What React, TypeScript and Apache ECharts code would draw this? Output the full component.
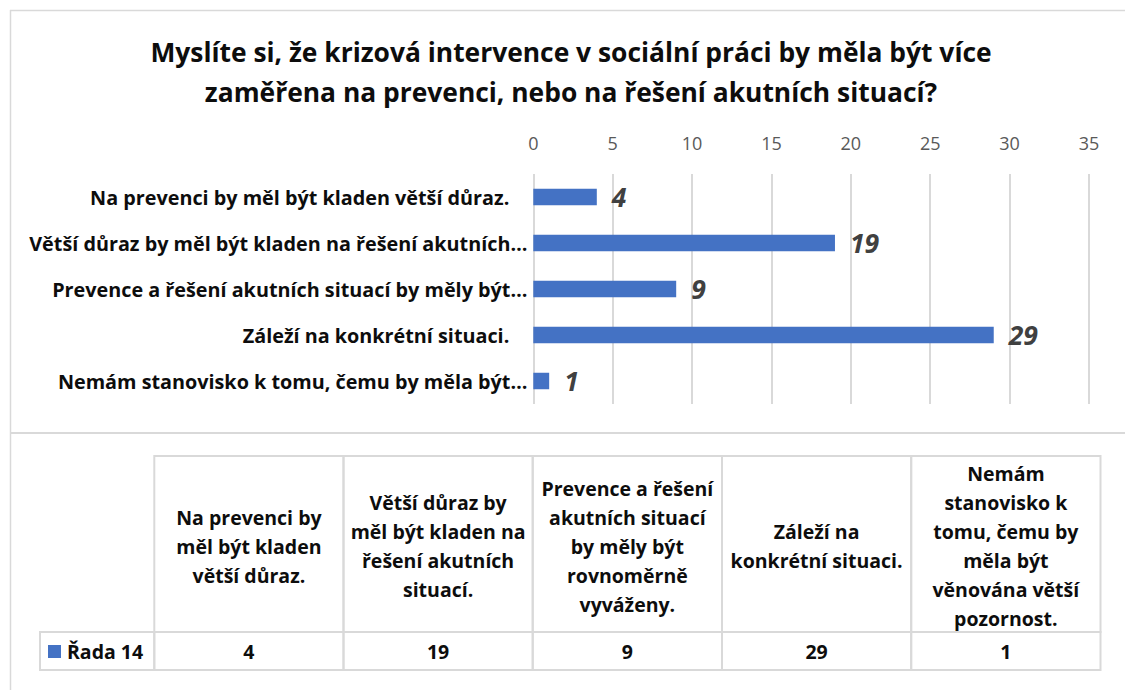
import React, { useEffect, useRef } from "react";
import * as echarts from "echarts";

const titleText =
  "Myslíte si, že krizová intervence v sociální práci by měla být více\nzaměřena na prevenci, nebo na řešení akutních situací?";

const categories = [
  "Na prevenci by měl být kladen větší důraz.",
  "Větší důraz by měl být kladen na řešení akutních situací.",
  "Prevence a řešení akutních situací by měly být rovnoměrně vyváženy.",
  "Záleží na konkrétní situaci.",
  "Nemám stanovisko k tomu, čemu by měla být věnována větší pozornost.",
];

const axisLabels = [
  "Na prevenci by měl být kladen větší důraz.",
  "Větší důraz by měl být kladen na řešení akutních…",
  "Prevence a řešení akutních situací by měly být…",
  "Záleží na konkrétní situaci.",
  "Nemám stanovisko k tomu, čemu by měla být…",
];

const tableHeaders = [
  "Na prevenci by\nměl být kladen\nvětší důraz.",
  "Větší důraz by\nměl být kladen na\nřešení akutních\nsituací.",
  "Prevence a řešení\nakutních situací\nby měly být\nrovnoměrně\nvyváženy.",
  "Záleží na\nkonkrétní situaci.",
  "Nemám\nstanovisko k\ntomu, čemu by\nměla být\nvěnována větší\npozornost.",
];

const seriesName = "Řada 14";
const values = [4, 19, 9, 29, 1];

const axisMin = 0;
const axisMax = 35;
const axisInterval = 5;

const FONT = "'Open Sans', 'Noto Sans', sans-serif";
const BAR_COLOR = "#4472c4";
const LINE_COLOR = "#d9d9d9";
const TEXT_SIZE = 19.5;

export default function App() {
  const ref = useRef<HTMLDivElement>(null);

  useEffect(() => {
    if (!ref.current) return;
    const chart = echarts.init(ref.current, undefined, { renderer: "svg" });

    const colX = [154.3, 343.5, 532.7, 722, 911.2, 1100.5];
    const legendX = 40;
    const headTop = 456;
    const headBottom = 632;
    const rowBottom = 670;

    const graphics: any[] = [];
    graphics.push({
      type: "line",
      shape: { x1: 10, y1: 10.5, x2: 1125, y2: 10.5 },
      style: { stroke: LINE_COLOR, lineWidth: 1.5 },
    });
    graphics.push({
      type: "line",
      shape: { x1: 10.5, y1: 10, x2: 10.5, y2: 690 },
      style: { stroke: LINE_COLOR, lineWidth: 1.5 },
    });
    graphics.push({
      type: "line",
      shape: { x1: 10, y1: 433, x2: 1125, y2: 433 },
      style: { stroke: LINE_COLOR, lineWidth: 2 },
    });
    graphics.push({
      type: "text",
      x: 571,
      y: 72,
      style: {
        text: titleText,
        fontFamily: FONT,
        fontSize: 26.4,
        fontWeight: "bold",
        fill: "#0d0d0d",
        align: "center",
        verticalAlign: "middle",
        lineHeight: 40,
      },
    });
    tableHeaders.forEach((h, i) => {
      graphics.push({
        type: "rect",
        shape: { x: colX[i], y: headTop, width: colX[i + 1] - colX[i], height: headBottom - headTop },
        style: { fill: "none", stroke: LINE_COLOR, lineWidth: 2 },
      });
      graphics.push({
        type: "text",
        x: (colX[i] + colX[i + 1]) / 2,
        y: (headTop + headBottom) / 2 + 2,
        style: {
          text: h,
          fontFamily: FONT,
          fontSize: TEXT_SIZE,
          fontWeight: "bold",
          fill: "#0d0d0d",
          align: "center",
          verticalAlign: "middle",
          lineHeight: 29,
        },
      });
    });
    graphics.push({
      type: "rect",
      shape: { x: legendX, y: headBottom, width: colX[0] - legendX, height: rowBottom - headBottom },
      style: { fill: "none", stroke: LINE_COLOR, lineWidth: 2 },
    });
    graphics.push({
      type: "rect",
      shape: { x: 48, y: 645, width: 13, height: 13 },
      style: { fill: BAR_COLOR },
    });
    graphics.push({
      type: "text",
      x: 67,
      y: 651,
      style: {
        text: seriesName,
        fontFamily: FONT,
        fontSize: TEXT_SIZE,
        fontWeight: "bold",
        fill: "#0d0d0d",
        align: "left",
        verticalAlign: "middle",
      },
    });
    values.forEach((v, i) => {
      graphics.push({
        type: "rect",
        shape: { x: colX[i], y: headBottom, width: colX[i + 1] - colX[i], height: rowBottom - headBottom },
        style: { fill: "none", stroke: LINE_COLOR, lineWidth: 2 },
      });
      graphics.push({
        type: "text",
        x: (colX[i] + colX[i + 1]) / 2,
        y: 651,
        style: {
          text: String(v),
          fontFamily: FONT,
          fontSize: TEXT_SIZE,
          fontWeight: "bold",
          fill: "#0d0d0d",
          align: "center",
          verticalAlign: "middle",
        },
      });
    });

    chart.setOption({
      animation: false,
      backgroundColor: "#ffffff",
      grid: { left: 533.3, right: 36, top: 174, height: 230, containLabel: false },
      xAxis: {
        type: "value",
        position: "top",
        min: axisMin,
        max: axisMax,
        interval: axisInterval,
        axisLine: { show: false },
        axisTick: { show: false },
        axisLabel: { color: "#595959", fontSize: 18, fontFamily: FONT, margin: 22 },
        splitLine: { show: true, lineStyle: { color: LINE_COLOR, width: 2 } },
      },
      yAxis: {
        type: "category",
        inverse: true,
        data: categories.map((c, i) => ({
          value: c,
          textStyle: axisLabels[i].endsWith("…") ? {} : { padding: [0, 18, 0, 0] },
        })),
        axisLine: { show: false },
        axisTick: { show: false },
        axisLabel: {
          color: "#0d0d0d",
          fontSize: 19.8,
          fontWeight: "bold",
          fontFamily: FONT,
          margin: 6,
          formatter: (_v: string, idx: number) => axisLabels[idx],
        },
      },
      series: [
        {
          name: seriesName,
          type: "bar",
          data: values,
          barWidth: 16.5,
          itemStyle: { color: BAR_COLOR },
          label: {
            show: true,
            position: "right",
            distance: 15,
            fontSize: 26.5,
            fontWeight: "bold",
            fontStyle: "italic",
            fontFamily: FONT,
            color: "#404040",
          },
        },
      ],
      graphic: graphics,
    });

    return () => chart.dispose();
  }, []);

  return (
    <div
      ref={ref}
      style={{ position: "fixed", left: 0, top: 0, width: 1125, height: 690, background: "#fff" }}
    />
  );
}
